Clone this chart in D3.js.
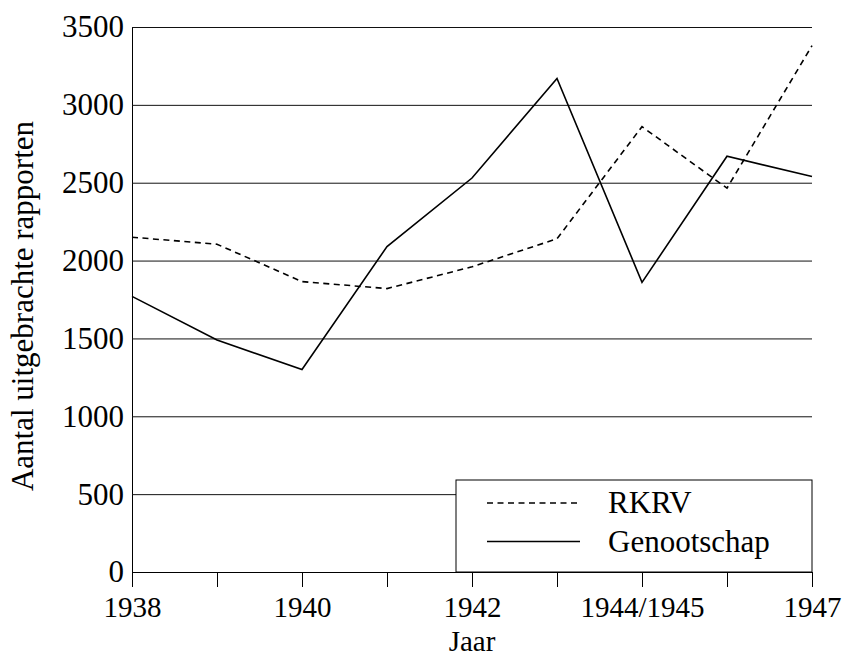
<!DOCTYPE html>
<html>
<head>
<meta charset="utf-8">
<script src="https://cdn.jsdelivr.net/npm/d3@7"></script>
<style>
  body { margin: 0; background: #fff; }
</style>
</head>
<body>
<div id="chart"></div>
<script>
const years = ["1938", "1939", "1940", "1941", "1942", "1943", "1944/1945", "1946", "1947"];
const shownYears = ["1938", "1940", "1942", "1944/1945", "1947"];
const rkrv = [2150, 2105, 1865, 1820, 1960, 2140, 2860, 2465, 3380];
const genootschap = [1770, 1490, 1300, 2090, 2530, 3170, 1860, 2670, 2540];
const yTicks = [0, 500, 1000, 1500, 2000, 2500, 3000, 3500];
const seriesNames = ["RKRV", "Genootschap"];

const width = 845, height = 658;
const plotLeft = 132, plotRight = 812, plotTop = 27, plotBottom = 572;
const serif = "Liberation Serif";
const fontSize = 31;

const svg = d3.select("#chart")
  .append("svg")
  .attr("width", width)
  .attr("height", height);

const x = d3.scalePoint()
  .domain(years)
  .range([plotLeft, plotRight]);

const y = d3.scaleLinear()
  .domain([0, 3500])
  .range([plotBottom, plotTop]);

// y axis + gridlines
const yAxis = svg.append("g")
  .attr("transform", `translate(${plotLeft},0)`)
  .call(d3.axisLeft(y)
    .tickValues(yTicks)
    .tickFormat(d3.format("d"))
    .tickSize(-(plotRight - plotLeft))
    .tickSizeOuter(0)
    .tickPadding(8));
yAxis.selectAll(".tick line").attr("stroke", "#111").attr("stroke-width", 1);
yAxis.selectAll("text").attr("fill", "#000").attr("font-family", serif).attr("font-size", fontSize);
yAxis.select(".domain").attr("stroke", "#000");

// x axis
const xAxis = svg.append("g")
  .attr("transform", `translate(0,${plotBottom})`)
  .call(d3.axisBottom(x)
    .tickSize(15)
    .tickSizeOuter(0)
    .tickPadding(9)
    .tickFormat(d => shownYears.includes(d) ? d : ""));
xAxis.selectAll("text").attr("fill", "#000").attr("font-family", serif).attr("font-size", 29);
xAxis.selectAll(".tick line").attr("stroke", "#000");
xAxis.select(".domain").attr("stroke", "#000");

// axis titles
svg.append("text")
  .attr("x", (plotLeft + plotRight) / 2)
  .attr("y", 651)
  .attr("text-anchor", "middle")
  .attr("font-family", serif)
  .attr("font-size", 29)
  .text("Jaar");

svg.append("text")
  .attr("transform", `translate(33,306) rotate(-90)`)
  .attr("text-anchor", "middle")
  .attr("font-family", serif)
  .attr("font-size", fontSize)
  .text("Aantal uitgebrachte rapporten");

// lines
const line = d3.line()
  .x((d, i) => x(years[i]))
  .y(d => y(d));

svg.append("path")
  .datum(rkrv)
  .attr("fill", "none")
  .attr("stroke", "#000")
  .attr("stroke-width", 1.6)
  .attr("stroke-dasharray", "6,4.5")
  .attr("d", line);

svg.append("path")
  .datum(genootschap)
  .attr("fill", "none")
  .attr("stroke", "#000")
  .attr("stroke-width", 1.6)
  .attr("d", line);

// legend
const legend = svg.append("g");
legend.append("rect")
  .attr("x", 456)
  .attr("y", 480)
  .attr("width", plotRight - 456)
  .attr("height", plotBottom - 480)
  .attr("fill", "#fff")
  .attr("stroke", "#000")
  .attr("stroke-width", 1);

seriesNames.forEach((name, i) => {
  const ly = 503 + i * 38.5;
  legend.append("line")
    .attr("x1", 487)
    .attr("x2", 580)
    .attr("y1", ly)
    .attr("y2", ly)
    .attr("stroke", "#000")
    .attr("stroke-width", 1.6)
    .attr("stroke-dasharray", i === 0 ? "6,4.5" : null);
  legend.append("text")
    .attr("x", 608)
    .attr("y", ly)
    .attr("dy", "0.33em")
    .attr("font-family", serif)
    .attr("font-size", fontSize)
    .text(name);
});
</script>
</body>
</html>
